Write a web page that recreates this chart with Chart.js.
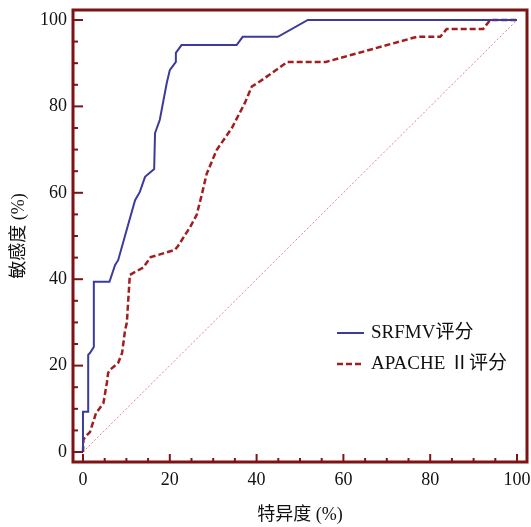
<!DOCTYPE html>
<html>
<head>
<meta charset="utf-8">
<script src="https://cdn.jsdelivr.net/npm/chart.js@4.4.0/dist/chart.umd.min.js"></script>
<style>
  body { margin: 0; background: #fff; }
  #wrap { width: 531px; height: 527px; }
</style>
</head>
<body>
<div id="wrap"><canvas id="roc" width="531" height="527"></canvas></div>
<script>
// ROC kampyles - times diavasmenes apo thn eikona (x = 100-eidikothta %, y = euaisthisia %)
var srfmvX = [0, 0, 1.2, 1.2, 1.6, 2.5, 2.5, 6.1, 7.4, 8.1, 12.0, 13.1, 14.3, 16.4, 16.6, 17.7, 19.3, 20.0, 21.4, 21.4, 22.7, 35.4, 36.8, 44.9, 51.8, 100];
var srfmvY = [0, 9.3, 9.3, 22.5, 22.9, 24.3, 39.4, 39.4, 43.3, 44.4, 58.3, 60.2, 63.7, 65.5, 73.8, 76.9, 85.4, 88.4, 90.3, 92.4, 94.2, 94.2, 96.1, 96.1, 100, 100];

var apacheX = [0, 0.1, 0.5, 1.6, 3.0, 4.7, 5.5, 5.8, 6.2, 8.1, 9.0, 9.7, 10.1, 10.8, 13.9, 15.6, 21.2, 21.9, 24.7, 26.2, 27.4, 28.5, 30.8, 34.3, 37.3, 38.9, 40.8, 47.1, 56.0, 76.9, 82.3, 83.8, 92.2, 93.8, 100];
var apacheY = [0, 2.8, 3.5, 4.6, 9.0, 11.3, 16.0, 18.3, 19.0, 20.6, 22.9, 28.2, 29.9, 41.0, 42.7, 45.1, 46.8, 47.7, 52.1, 54.9, 59.7, 64.4, 69.9, 75.0, 80.8, 84.6, 85.8, 90.3, 90.3, 96.1, 96.1, 97.9, 97.9, 100, 100];

var refX = [0, 100];
var refY = [0, 100];

var tickVals = [0, 5, 10, 15, 20, 25, 30, 35, 40, 45, 50, 55, 60, 65, 70, 75, 80, 85, 90, 95, 100];
var seriesNames = ['SRFMV评分', 'APACHE Ⅱ评分'];

var axisColor = '#7e1315';
var fontFam = '"Liberation Serif", "Noto Sans CJK SC", serif';

function toPts(xs, ys) {
  var out = [];
  for (var i = 0; i < xs.length; i++) out.push({x: xs[i], y: ys[i]});
  return out;
}

// plaisio + eswterika ticks (megala ana 20, mikra ana 5) + legend mesa sto grafhma
var frameTicks = {
  id: 'frameTicks',
  afterDraw: function(chart) {
    var c = chart.ctx, a = chart.chartArea;
    var sx = chart.scales.x, sy = chart.scales.y;
    c.save();
    c.strokeStyle = axisColor;
    c.lineWidth = 3;
    c.strokeRect(a.left, a.top, a.right - a.left, a.bottom - a.top);
    c.lineWidth = 2;
    tickVals.forEach(function(v) {
      var big = v % 20 == 0;
      var px = sx.getPixelForValue(v);
      c.beginPath();
      c.moveTo(px, a.bottom);
      c.lineTo(px, a.bottom - (big ? 8 : 4));
      c.stroke();
      var py = sy.getPixelForValue(v);
      c.beginPath();
      c.moveTo(a.left, py);
      c.lineTo(a.left + (big ? 10 : 5), py);
      c.stroke();
    });
    // legend
    var ds = chart.data.datasets;
    var lx = a.left + 264, ly = a.top + 323;
    c.font = '19px ' + fontFam;
    c.textBaseline = 'middle';
    c.fillStyle = '#111';
    for (var i = 0; i < 2; i++) {
      var y = ly + i * 31;
      c.strokeStyle = ds[i].borderColor;
      c.lineWidth = ds[i].borderWidth;
      c.setLineDash(ds[i].borderDash || []);
      c.beginPath();
      c.moveTo(lx, y);
      c.lineTo(lx + 27, y);
      c.stroke();
      c.setLineDash([]);
      c.fillText(ds[i].label, lx + 34, y);
    }
    c.restore();
  }
};

var chart = new Chart(document.getElementById('roc').getContext('2d'), {
  type: 'scatter',
  data: {
    datasets: [{
      label: seriesNames[0],
      data: toPts(srfmvX, srfmvY),
      showLine: true,
      borderColor: '#3b3b9c',
      borderWidth: 2,
      pointRadius: 0,
      tension: 0
    }, {
      label: seriesNames[1],
      data: toPts(apacheX, apacheY),
      showLine: true,
      borderColor: '#a21d1f',
      borderWidth: 2.5,
      borderDash: [6, 3],
      pointRadius: 0,
      tension: 0
    }, {
      label: 'ref',
      data: toPts(refX, refY),
      showLine: true,
      borderColor: 'rgba(215,90,90,0.75)',
      borderWidth: 1,
      borderDash: [2, 2],
      pointRadius: 0
    }]
  },
  options: {
    responsive: false,
    animation: false,
    devicePixelRatio: 1,
    layout: { padding: { top: 10, right: 4, left: 0, bottom: 0 } },
    plugins: { legend: { display: false }, tooltip: { enabled: false } },
    scales: {
      x: {
        type: 'linear', min: -2.3, max: 102.3,
        border: { display: false },
        grid: { display: false, drawTicks: false },
        afterBuildTicks: function(s) { s.ticks = tickVals.map(function(v) { return {value: v}; }); },
        afterFit: function(s) { s.height = 65; s.paddingLeft = 0; s.paddingRight = 0; },
        ticks: {
          autoSkip: false, maxRotation: 0, padding: 7, color: '#111',
          font: { family: fontFam, size: 18 },
          callback: function(v) { return v % 20 == 0 ? v : ''; }
        },
        title: { display: true, text: '特异度 (%)', color: '#111', padding: { top: 0, bottom: 1 }, font: { family: fontFam, size: 18 } }
      },
      y: {
        type: 'linear', min: -2.31, max: 102.31,
        border: { display: false },
        grid: { display: false, drawTicks: false },
        afterBuildTicks: function(s) { s.ticks = tickVals.map(function(v) { return {value: v}; }); },
        afterFit: function(s) { s.width = 73; s.paddingTop = 0; s.paddingBottom = 0; },
        ticks: {
          autoSkip: false, padding: 6, color: '#111',
          font: { family: fontFam, size: 18 },
          callback: function(v) { return v % 20 == 0 ? v : ''; }
        },
        title: { display: true, text: '敏感度 (%)', color: '#111', padding: { top: 8, bottom: 0 }, font: { family: fontFam, size: 18 } }
      }
    }
  },
  plugins: [frameTicks]
});
</script>
</body>
</html>
